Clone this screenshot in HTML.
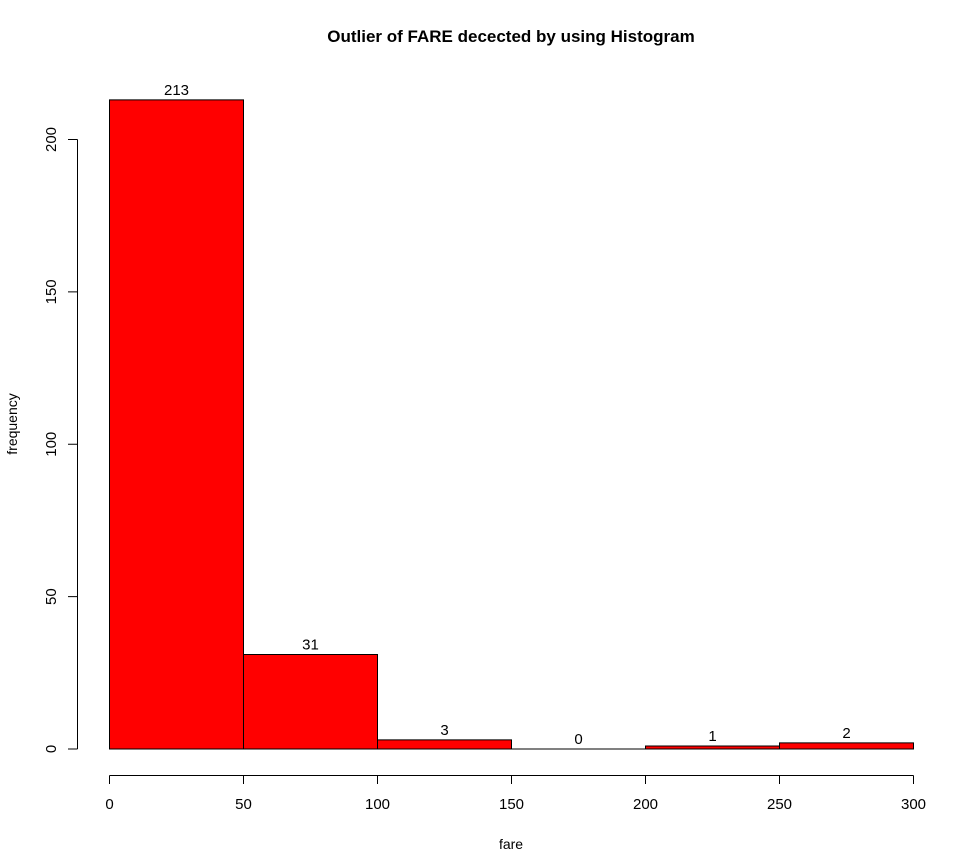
<!DOCTYPE html>
<html><head><meta charset="utf-8"><style>body{margin:0;background:#fff}svg{display:block;font-family:"Liberation Sans",Arial,sans-serif}</style></head>
<body>
<svg id="chart" width="974" height="860" viewBox="0 0 974 860">
<text x="511" y="42" text-anchor="middle" font-size="17" font-weight="bold">Outlier of FARE decected by using Histogram</text>
<text x="511" y="849" text-anchor="middle" font-size="14">fare</text>
<text transform="translate(17,424) rotate(-90)" text-anchor="middle" font-size="14">frequency</text>
<g id="bars"></g>
<g id="axes"></g>
</svg>
<script>
const binStarts = [0, 50, 100, 150, 200, 250];
const binWidth = 50;
const counts = [213, 31, 3, 0, 1, 2];
const xTicks = [0, 50, 100, 150, 200, 250, 300];
const yTicks = [0, 50, 100, 150, 200];

const NS = "http://www.w3.org/2000/svg";
const X = v => 109.5 + v * (913.5 - 109.5) / 300;
const Y = v => 749 - v * (749 - 139.5) / 200;
function mk(tag, attrs, parent, txt) {
  const e = document.createElementNS(NS, tag);
  for (const k in attrs) e.setAttribute(k, attrs[k]);
  if (txt !== undefined) e.textContent = txt;
  parent.appendChild(e); return e;
}
const bars = document.getElementById('bars');
const axes = document.getElementById('axes');
counts.forEach((c, i) => {
  const x0 = X(binStarts[i]), x1 = X(binStarts[i] + binWidth);
  const y0 = Y(0), y1 = Y(c);
  const r = mk('path', {d: `M${x0},${y0}V${y1}H${x1}V${y0}Z`, fill: '#ff0000', stroke: '#000', 'stroke-width': 1}, bars);
  
  
  const t = mk('text', {x: (x0 + x1) / 2, y: y1 - 5, 'text-anchor': 'middle', 'font-size': 15}, bars, String(c));
  
  
});
const xa = mk('path', {d: `M${X(0)},775.5H${X(300)}` + xTicks.map(v => `M${X(v)},775.5V784`).join(''), stroke: '#000', fill: 'none'}, axes);


xTicks.forEach(v => {
  const t = mk('text', {x: X(v), y: 809, 'text-anchor': 'middle', 'font-size': 15}, axes, String(v));
  
  
});
const ya = mk('path', {d: `M77.5,${Y(0)}V${Y(200)}` + yTicks.map(v => `M77.5,${Y(v)}H68`).join(''), stroke: '#000', fill: 'none'}, axes);


yTicks.forEach(v => {
  const t = mk('text', {transform: `translate(56,${Y(v)}) rotate(-90)`, 'text-anchor': 'middle', 'font-size': 15}, axes, String(v));
  
  
});
</script>
</body></html>
